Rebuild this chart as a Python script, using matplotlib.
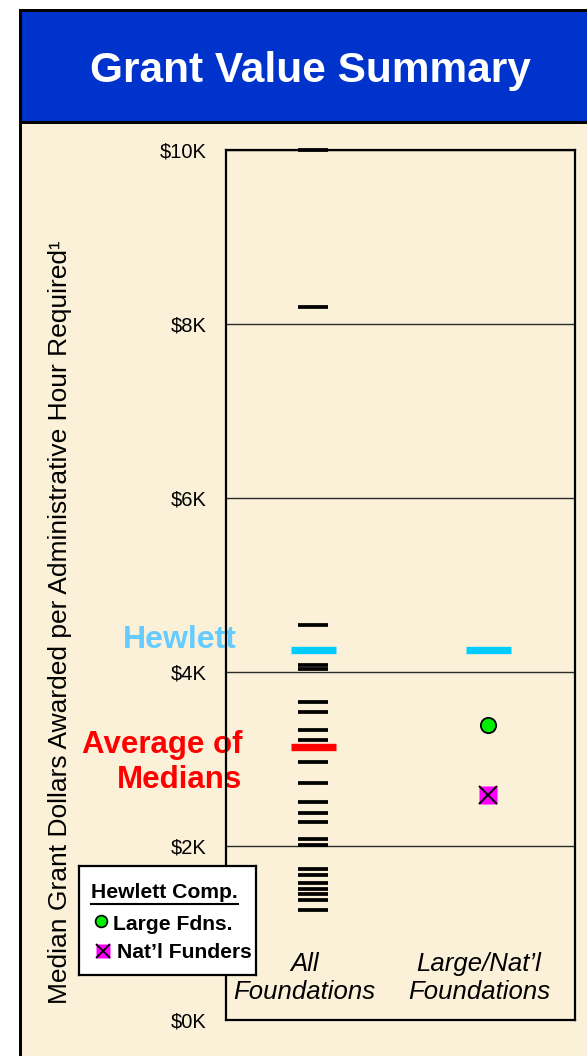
import matplotlib
matplotlib.use('Agg')
import matplotlib.pyplot as plt
from matplotlib.patches import Rectangle
import numpy as np

plt.rcParams['font.family'] = ['Liberation Sans', 'DejaVu Sans']

# median grant $ per admin hour, in $K
all_fdns = [10.0, 8.19, 4.54, 4.08, 4.03, 3.66, 3.54, 3.33, 3.22, 2.97, 2.72,
            2.51, 2.38, 2.28, 2.08, 2.01, 1.74, 1.67, 1.58, 1.51, 1.45, 1.38, 1.26]
hewlett = 4.25
large_fdns = 3.39
natl_funders = 2.59
avg_medians = np.mean(all_fdns)

categories = ['All\nFoundations', 'Large/Nat\u2019l\nFoundations']
cat_pos = [0.5, 1.5]
yticks = [0, 2, 4, 6, 8, 10]
ytick_labels = ['$%dK' % v for v in yticks]

W, H = 587, 1056
cream = '#FBF1D9'
blue_band = '#0033CC'
hewlett_blue = '#00CCFF'


def box(x, y, w, h):
    # pixel box (from top-left) -> figure fraction rect
    return [x / W, 1 - (y + h) / H, w / W, h / H]


fig = plt.figure(figsize=(W / 100, H / 100), dpi=100)
fig.patch.set_facecolor('white')

# slide frame
fig.patches.append(Rectangle((19 / W, 0), 1, 1 - 9 / H, transform=fig.transFigure,
                             facecolor='black', edgecolor='none', zorder=-10))
fig.patches.append(Rectangle((22 / W, 0), 1, 1 - 124 / H, transform=fig.transFigure,
                             facecolor=cream, edgecolor='none', zorder=-9))
fig.patches.append(Rectangle((22 / W, 1 - 121 / H), 1, 109 / H, transform=fig.transFigure,
                             facecolor=blue_band, edgecolor='none', zorder=-9))
fig.text(310 / W, 1 - 71 / H, 'Grant Value Summary', color='white', fontsize=30.5,
         fontweight='bold', ha='center', va='center')

ax = fig.add_axes(box(226, 150, 349, 870), zorder=1)
ax.set_facecolor(cream)
ax.set_xlim(0, 2)
ax.set_ylim(0, 10)
ax.set_xticks([])
ax.set_yticks(yticks)
ax.set_yticklabels(ytick_labels, fontsize=14.5)
ax.tick_params(axis='y', length=0, pad=14)
ax.yaxis.grid(True, color='#2b2b2b', linewidth=1.0)
ax.set_axisbelow(True)
for s in ax.spines.values():
    s.set_linewidth(1.6)
    s.set_color('black')

ax.set_ylabel('Median Grant Dollars Awarded per Administrative Hour Required\u00b9',
              fontsize=19)
ax.yaxis.set_label_coords(-0.441, 0.457)

# individual foundation medians
ax.plot(np.full(len(all_fdns), cat_pos[0]), all_fdns, ls='none', marker='_',
        ms=21.6, mew=2.7, color='black', zorder=3, clip_on=False)
# average + hewlett markers
ax.plot([cat_pos[0]], [avg_medians], ls='none', marker='_', ms=32.4, mew=5.3,
        color='red', zorder=4)
ax.plot(cat_pos, [hewlett, hewlett], ls='none', marker='_', ms=32.4, mew=5.3,
        color=hewlett_blue, zorder=4)
ax.plot([cat_pos[1]], [large_fdns], ls='none', marker='o', ms=11, mfc='#00EE00',
        mec='black', mew=1.3, zorder=4)
ax.plot([cat_pos[1]], [natl_funders], ls='none', marker='s', ms=13.5, mfc='#FF00FF',
        mec='none', zorder=4)
ax.plot([cat_pos[1]], [natl_funders], ls='none', marker='x', ms=13, mec='black',
        mew=1.4, zorder=5)

for x, lab in zip(cat_pos, categories):
    ax.text(x - 0.05, 0.48, lab, fontsize=18.5, style='italic', ha='center',
            va='center', linespacing=1.22)

ax.text(0.03, hewlett + 0.12, 'Hewlett', transform=ax.get_yaxis_transform(),
        color='#66CCFF', fontsize=23, fontweight='bold', ha='right', va='center',
        clip_on=False, zorder=2)
ax.text(0.046, avg_medians - 0.18, 'Average of\nMedians', transform=ax.get_yaxis_transform(),
        color='red', fontsize=22.5, fontweight='bold', ha='right', va='center',
        linespacing=1.22, clip_on=False, zorder=2)

# legend box
lg = fig.add_axes(box(79, 866, 177, 109), zorder=5)
lg.set_xlim(0, 177)
lg.set_ylim(109, 0)
lg.set_xticks([])
lg.set_yticks([])
lg.set_facecolor('white')
for s in lg.spines.values():
    s.set_linewidth(1.6)
ttl = lg.text(12, 27, 'Hewlett Comp.', fontsize=15.2, fontweight='bold', va='center')
fig.canvas.draw()
bb = ttl.get_window_extent().transformed(lg.transData.inverted())
lg.plot([bb.x0, bb.x1], [38, 38], color='black', lw=1.5)
lg.plot([22], [55], marker='o', ms=8.5, mfc='#00EE00', mec='black', mew=1.2)
lg.text(34, 58, 'Large Fdns.', fontsize=15.2, fontweight='bold', va='center')
lg.plot([24], [85], marker='s', ms=10.5, mfc='#FF00FF', mec='none')
lg.plot([24], [85], marker='x', ms=10, mec='black', mew=1.3)
lg.text(38, 86, 'Nat\u2019l Funders', fontsize=15.2, fontweight='bold', va='center')

fig.savefig('out.png', dpi=100)
